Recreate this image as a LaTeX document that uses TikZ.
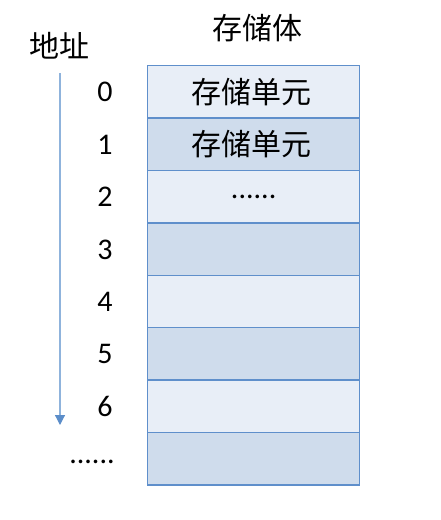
\documentclass[tikz,border=0pt]{standalone}
\usepackage{fontspec}
\setmainfont{Carlito}
\newfontfamily\cjk{Noto Sans CJK SC}
\usetikzlibrary{arrows.meta}
\definecolor{cellA}{HTML}{E8EEF7}
\definecolor{cellB}{HTML}{CFDCEC}
\definecolor{cellLine}{HTML}{5F8FCB}
\definecolor{arrowLine}{HTML}{8FB3DC}
\definecolor{arrowHead}{HTML}{5B8DC9}
\tikzset{
  cell/.style={draw=cellLine, line width=1.4pt, minimum width=212pt, minimum height=52.4pt, inner sep=0pt, anchor=north west},
  lightcell/.style={cell, fill=cellA},
  darkcell/.style={cell, fill=cellB},
  celltext/.style={font=\cjk\fontsize{30}{34}\selectfont, inner sep=0pt},
  addr/.style={font=\fontsize{30}{34}\selectfont, inner sep=0pt},
  title/.style={font=\cjk\fontsize{30}{34}\selectfont, inner sep=0pt},
}
\begin{document}
\begin{tikzpicture}[x=1pt,y=-1pt]
\useasboundingbox (0,0) rectangle (440,520);
\node[title] (store) at (257,28) {存储体};
\node[title] (addrtitle) at (60,46) {地址};
\foreach \i/\s in {0/lightcell,1/darkcell,2/lightcell,3/darkcell,4/lightcell,5/darkcell,6/lightcell,7/darkcell}{
  \node[\s] (c\i) at (147,{65+52.4*\i}) {};
}
\node[celltext] (t0) at ([xshift=-2pt]c0.center) {存储单元};
\node[celltext] (t1) at ([xshift=-2pt]c1.center) {存储单元};
\node[addr] (mdots) at ([yshift=0pt]c2.center) {......};
\foreach \i in {0,...,6}{
  \node[addr] (n\i) at (105,{65+52.4*(\i+0.5)+1}) {\i};
}
\node[addr] (ldots) at (92,462) {......};
\coordinate (astart) at (60,73);
\coordinate (aend) at (60,425);
\draw[arrowLine, line width=1.2pt, -{Triangle[length=10pt,width=10pt,color=arrowHead]}] (astart) -- (aend);
\end{tikzpicture}
\end{document}
